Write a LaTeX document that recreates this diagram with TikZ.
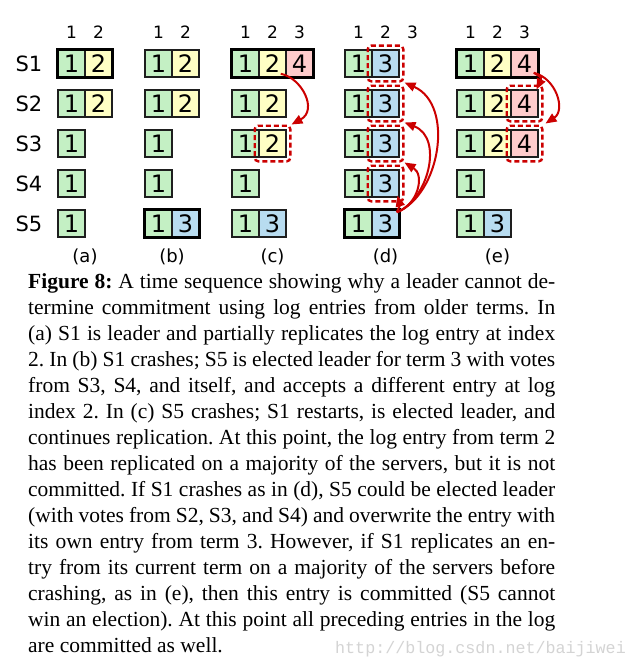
\documentclass[tikz,border=0pt]{standalone}
\usepackage{fontspec}
\setmainfont{Liberation Serif}
\newfontfamily\dvfont{DejaVu Sans}
\newfontfamily\wmfont{Liberation Mono}
\usetikzlibrary{fit,arrows.meta}
\definecolor{cgreen}{RGB}{196,240,196}
\definecolor{cyellow}{RGB}{255,255,196}
\definecolor{cpink}{RGB}{255,204,204}
\definecolor{cblue}{RGB}{184,220,240}
\definecolor{cred}{RGB}{204,0,0}
\definecolor{cedge}{RGB}{30,30,30}
\frenchspacing
\begin{document}
\begin{tikzpicture}[x=1pt,y=-1pt,
  cell/.style={draw=cedge, line width=1.6pt, minimum width=27pt, minimum height=27pt, inner sep=0pt, font=\dvfont\fontsize{24}{24}\selectfont},
  tone/.style={cell, fill=cgreen},
  ttwo/.style={cell, fill=cyellow},
  tthree/.style={cell, fill=cblue},
  tfour/.style={cell, fill=cpink},
  lead/.style={draw=black, line width=3.2pt, inner sep=0pt},
  dbox/.style={draw=cred, line width=2.4pt, dash pattern=on 5pt off 3pt, rounded corners=3.5pt, inner sep=3.5pt},
  arr/.style={draw=cred, line width=2pt, -{Triangle[length=11pt,width=9pt]}},
  hdr/.style={font=\dvfont\fontsize{17}{17}\selectfont, inner sep=0pt},
  srv/.style={font=\dvfont\fontsize{21}{21}\selectfont, inner sep=0pt},
  sub/.style={font=\dvfont\fontsize{18}{18}\selectfont, inner sep=0pt},
]
\useasboundingbox (0,0) rectangle (635,669);
\fill[white] (0,0) rectangle (635,669);

% server labels
\node[srv] (s1) at (29,63.5) {S1};
\node[srv] (s2) at (29,103.5) {S2};
\node[srv] (s3) at (29,143.5) {S3};
\node[srv] (s4) at (29,183.5) {S4};
\node[srv] (s5) at (29,223.5) {S5};

% headers
\node[hdr] (ha1) at (71.5,32) {1};
\node[hdr] (ha2) at (98.5,32) {2};
\node[hdr] (hb1) at (158.5,32) {1};
\node[hdr] (hb2) at (185.5,32) {2};
\node[hdr] (hc1) at (245.5,32) {1};
\node[hdr] (hc2) at (272.5,32) {2};
\node[hdr] (hc3) at (299.5,32) {3};
\node[hdr] (hd1) at (358.5,32) {1};
\node[hdr] (hd2) at (385.5,32) {2};
\node[hdr] (hd3) at (412.5,32) {3};
\node[hdr] (he1) at (470.5,32) {1};
\node[hdr] (he2) at (497.5,32) {2};
\node[hdr] (he3) at (524.5,32) {3};

% (a)
\node[tone] (a1-1) at (71.5,63.5) {1};
\node[ttwo] (a1-2) at (98.5,63.5) {2};
\node[tone] (a2-1) at (71.5,103.5) {1};
\node[ttwo] (a2-2) at (98.5,103.5) {2};
\node[tone] (a3-1) at (71.5,143.5) {1};
\node[tone] (a4-1) at (71.5,183.5) {1};
\node[tone] (a5-1) at (71.5,223.5) {1};
\node[lead, fit=(a1-1)(a1-2)] (aL) {};

% (b)
\node[tone] (b1-1) at (158.5,63.5) {1};
\node[ttwo] (b1-2) at (185.5,63.5) {2};
\node[tone] (b2-1) at (158.5,103.5) {1};
\node[ttwo] (b2-2) at (185.5,103.5) {2};
\node[tone] (b3-1) at (158.5,143.5) {1};
\node[tone] (b4-1) at (158.5,183.5) {1};
\node[tone] (b5-1) at (158.5,223.5) {1};
\node[tthree] (b5-2) at (185.5,223.5) {3};
\node[lead, fit=(b5-1)(b5-2)] (bL) {};

% (c)
\node[tone] (c1-1) at (245.5,63.5) {1};
\node[ttwo] (c1-2) at (272.5,63.5) {2};
\node[tfour] (c1-3) at (299.5,63.5) {4};
\node[tone] (c2-1) at (245.5,103.5) {1};
\node[ttwo] (c2-2) at (272.5,103.5) {2};
\node[tone] (c3-1) at (245.5,143.5) {1};
\node[ttwo] (c3-2) at (272.5,143.5) {2};
\node[tone] (c4-1) at (245.5,183.5) {1};
\node[tone] (c5-1) at (245.5,223.5) {1};
\node[tthree] (c5-2) at (272.5,223.5) {3};
\node[lead, fit=(c1-1)(c1-3)] (cL) {};
\node[dbox, fit=(c3-2)] (c3box) {};

% (d)
\node[tone] (d1-1) at (358.5,63.5) {1};
\node[tthree] (d1-2) at (385.5,63.5) {3};
\node[tone] (d2-1) at (358.5,103.5) {1};
\node[tthree] (d2-2) at (385.5,103.5) {3};
\node[tone] (d3-1) at (358.5,143.5) {1};
\node[tthree] (d3-2) at (385.5,143.5) {3};
\node[tone] (d4-1) at (358.5,183.5) {1};
\node[tthree] (d4-2) at (385.5,183.5) {3};
\node[tone] (d5-1) at (358.5,223.5) {1};
\node[tthree] (d5-2) at (385.5,223.5) {3};
\node[lead, fit=(d5-1)(d5-2)] (dL) {};
\node[dbox, fit=(d1-2)] (d1box) {};
\node[dbox, fit=(d2-2)] (d2box) {};
\node[dbox, fit=(d3-2)] (d3box) {};
\node[dbox, fit=(d4-2)] (d4box) {};

% (e)
\node[tone] (e1-1) at (470.5,63.5) {1};
\node[ttwo] (e1-2) at (497.5,63.5) {2};
\node[tfour] (e1-3) at (524.5,63.5) {4};
\node[tone] (e2-1) at (470.5,103.5) {1};
\node[ttwo] (e2-2) at (497.5,103.5) {2};
\node[tfour] (e2-3) at (524.5,103.5) {4};
\node[tone] (e3-1) at (470.5,143.5) {1};
\node[ttwo] (e3-2) at (497.5,143.5) {2};
\node[tfour] (e3-3) at (524.5,143.5) {4};
\node[tone] (e4-1) at (470.5,183.5) {1};
\node[tone] (e5-1) at (470.5,223.5) {1};
\node[tthree] (e5-2) at (497.5,223.5) {3};
\node[lead, fit=(e1-1)(e1-3)] (eL) {};
\node[dbox, fit=(e2-3)] (e2box) {};
\node[dbox, fit=(e3-3)] (e3box) {};

% sub labels
\node[sub] (la) at (85,257) {(a)};
\node[sub] (lb) at (172,257) {(b)};
\node[sub] (lc) at (272.5,257) {(c)};
\node[sub] (ld) at (385.5,257) {(d)};
\node[sub] (le) at (497.5,257) {(e)};

% arrows
\draw[arr] ([shift={(-6,-4)}]c1-2.south east) .. controls (302,78) and (318,110) .. (c3box.north east);
\coordinate (dstart) at ([shift={(-3,3)}]d5-2.north east);
\draw[arr] (dstart) .. controls (440,195) and (455,105) .. (d1box.south east);
\draw[arr] (dstart) .. controls (428,200) and (444,138) .. (d2box.south east);
\draw[arr] (dstart) .. controls (418,205) and (425,175) .. (d3box.south east);
\draw[arr] (dstart) .. controls (400,205) .. ([shift={(-7,-7)}]d4box.south east);
\coordinate (estart) at ([shift={(-5,-5)}]e1-3.south east);
\draw[arr] (estart) .. controls (542,78) .. ([shift={(-7,5)}]e2box.north east);
\draw[arr] (estart) .. controls (556,78) and (566,110) .. ([shift={(2,-1)}]e3box.north east);

% caption
\node[anchor=base west, inner sep=0pt] (cap) at (28,288) {\parbox[t]{527pt}{\fontsize{21.5}{26}\selectfont
\makebox[527pt][s]{\textbf{Figure 8:} A time sequence showing why a leader cannot de-}\\
\makebox[527pt][s]{termine commitment using log entries from older terms. In}\\
\makebox[527pt][s]{(a) S1 is leader and partially replicates the log entry at index}\\
\makebox[527pt][s]{2. In (b) S1 crashes; S5 is elected leader for term 3 with votes}\\
\makebox[527pt][s]{from S3, S4, and itself, and accepts a different entry at log}\\
\makebox[527pt][s]{index 2. In (c) S5 crashes; S1 restarts, is elected leader, and}\\
\makebox[527pt][s]{continues replication. At this point, the log entry from term 2}\\
\makebox[527pt][s]{has been replicated on a majority of the servers, but it is not}\\
\makebox[527pt][s]{committed. If S1 crashes as in (d), S5 could be elected leader}\\
\makebox[527pt][s]{(with votes from S2, S3, and S4) and overwrite the entry with}\\
\makebox[527pt][s]{its own entry from term 3. However, if S1 replicates an en-}\\
\makebox[527pt][s]{try from its current term on a majority of the servers before}\\
\makebox[527pt][s]{crashing, as in (e), then this entry is committed (S5 cannot}\\
\makebox[527pt][s]{win an election). At this point all preceding entries in the log}\\
are committed as well.}};

\node[anchor=base west, inner sep=0pt, text=black!17, font=\wmfont\fontsize{16.7}{16.7}\selectfont] (wm) at (335,653) {http://blog.csdn.net/baijiwei};
\end{tikzpicture}
\end{document}
